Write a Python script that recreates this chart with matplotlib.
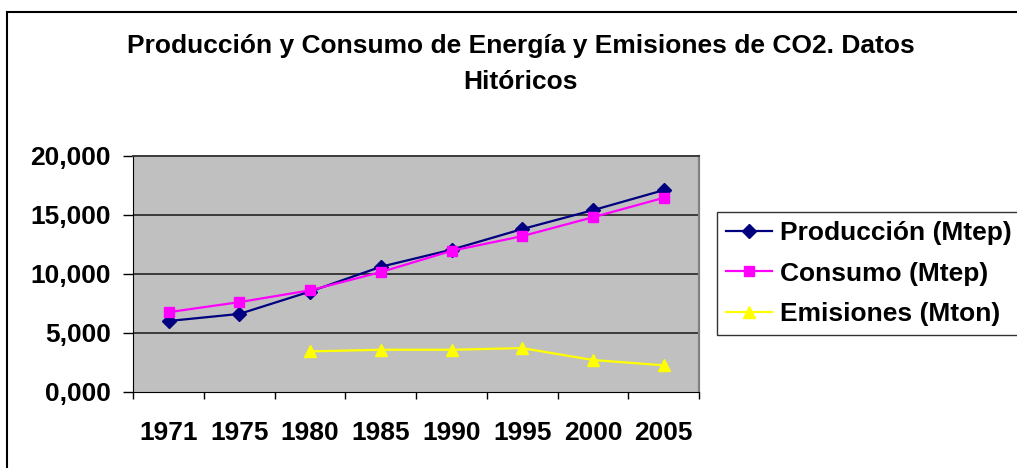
import matplotlib.pyplot as plt
import numpy as np
from matplotlib.patches import Rectangle
from matplotlib.ticker import FuncFormatter

plt.rcParams['font.family'] = ['Liberation Sans', 'DejaVu Sans']

years = ["1971", "1975", "1980", "1985", "1990", "1995", "2000", "2005"]
produccion = [6.0, 6.6, 8.5, 10.6, 12.05, 13.8, 15.4, 17.1]
consumo = [6.75, 7.6, 8.6, 10.15, 11.95, 13.2, 14.8, 16.45]
emisiones = [np.nan, np.nan, 3.42, 3.56, 3.56, 3.7, 2.69, 2.24]
yticks = [0, 5, 10, 15, 20]

fig = plt.figure(figsize=(10.17, 4.68), dpi=100)
ax = fig.add_axes([0.1311, 0.1630, 0.5562, 0.5037])
ax.set_facecolor('#C0C0C0')

x = np.arange(len(years))
ax.plot(x, produccion, color='#000080', lw=1.6, marker='D', ms=7, label='Producción (Mtep)')
ax.plot(x, consumo, color='#FF00FF', lw=1.6, marker='s', ms=7.5, label='Consumo (Mtep)')
ax.plot(x, emisiones, color='#FFFF00', lw=1.6, marker='^', ms=9, label='Emisiones (Mton)')

ax.set_xlim(-0.5, len(years) - 0.5)
ax.set_ylim(0, 20)
ax.set_yticks(yticks)
ax.yaxis.set_major_formatter(FuncFormatter(lambda v, p: f"{v:.3f}".replace('.', ',')))
for v in yticks[1:-1]:
    ax.axhline(v, color='#3a3a3a', lw=1.4, zorder=1)

ax.set_xticks(x)
ax.set_xticklabels(years)
ax.set_xticks(np.arange(-0.5, len(years)), minor=True)
ax.tick_params(axis='x', which='major', length=0, pad=21, labelsize=19)
ax.tick_params(axis='x', which='minor', length=5, width=1, color='black', direction='out')
ax.tick_params(axis='y', length=7, width=1, pad=9, labelsize=19)
for lab in ax.get_xticklabels() + ax.get_yticklabels():
    lab.set_fontweight('bold')

ax.spines['left'].set_color('black')
ax.spines['bottom'].set_color('black')
ax.spines['top'].set_color('#3a3a3a')
ax.spines['top'].set_linewidth(1.4)
ax.spines['right'].set_color('#808080')
ax.spines['right'].set_linewidth(1.6)

fig.text(0.512, 1 - 64 / 468, "Producción y Consumo de Energía y Emisiones de CO2. Datos\nHitóricos",
         ha='center', va='center', fontsize=19, fontweight='bold', linespacing=1.65)

leg = fig.legend(loc='upper left', bbox_to_anchor=(717 / 1017, 1 - 212 / 468),
                 bbox_transform=fig.transFigure, frameon=True, fancybox=False,
                 edgecolor='black', borderaxespad=0, prop={'size': 19, 'weight': 'bold'},
                 handlelength=1.75, handletextpad=0.3, labelspacing=0.62, borderpad=0.35)
leg.get_frame().set_linewidth(1.0)

fig.add_artist(Rectangle((7 / 1017, -0.1), 1.2, (468 - 12) / 468 + 0.1, transform=fig.transFigure,
                         fill=False, edgecolor='black', lw=1.5))

fig.savefig('out.png', dpi=100)
